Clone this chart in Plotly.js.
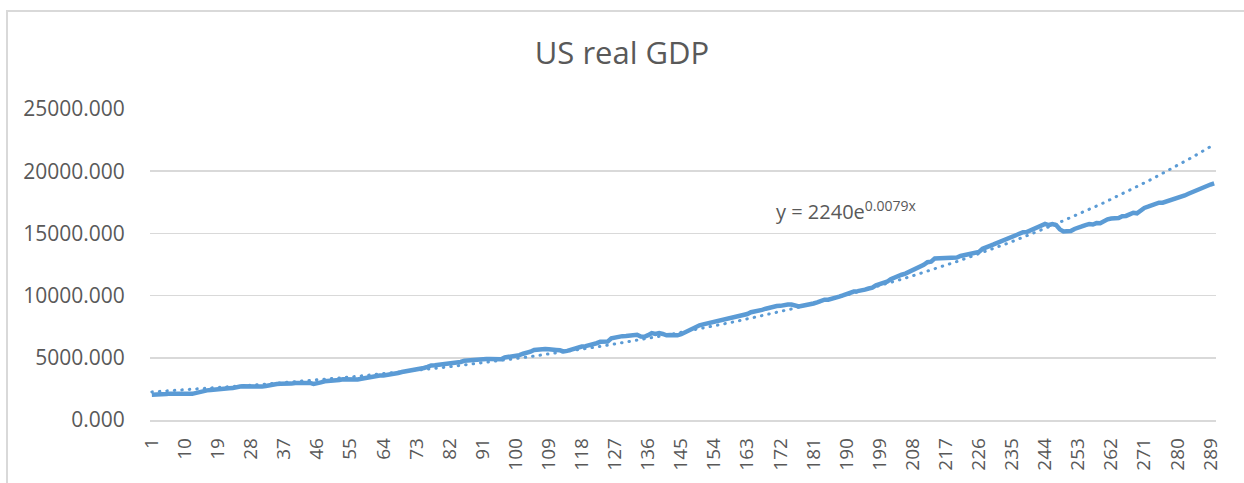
<!DOCTYPE html>
<html>
<head>
<meta charset="utf-8">
<script src="https://cdn.plot.ly/plotly-3.0.1.min.js"></script>
<style>
  html, body { margin: 0; padding: 0; background: #fff; }
  #chart { position: absolute; left: 0; top: 0; width: 1244px; height: 483px; }
  #frame { position: absolute; left: 6px; top: 10px; width: 1238px; height: 473px;
           border-left: 2px solid #d9d9d9; border-top: 2px solid #d9d9d9; pointer-events: none; box-sizing: border-box; }
  #chart .scatterlayer .trace:nth-child(2) path.js-line { stroke-linecap: round; }
</style>
</head>
<body>
<div id="chart"></div>
<div id="frame"></div>
<script>
// US real GDP, quarterly, 1947Q1 .. 2019Q2 (billions of chained dollars)
const gdp = [
  2033, 2028, 2023, 2055,   2086, 2120, 2133, 2135,   2106, 2098, 2120, 2102,
  2185, 2252, 2339, 2383,   2416, 2458, 2508, 2514,   2541, 2546, 2564, 2649,
  2698, 2719, 2703, 2662,   2650, 2653, 2683, 2735,   2813, 2859, 2898, 2915,
  2904, 2928, 2925, 2973,   2992, 2986, 3015, 2984,   2906, 2925, 3021, 3115,
  3124, 3195, 3204, 3212,   3278, 3260, 3276, 3234,   3255, 3311, 3372, 3446,
  3510, 3541, 3577, 3586,   3621, 3670, 3746, 3774,   3855, 3902, 3948, 3958,
  4054, 4104, 4185, 4273,   4385, 4400, 4437, 4472,   4510, 4511, 4545, 4578,
  4666, 4756, 4784, 4806,   4875, 4893, 4923, 4903,   4895, 4901, 4944, 4889,
  5027, 5056, 5101, 5114,   5210, 5328, 5386, 5488,   5630, 5679, 5661, 5708,
  5679, 5696, 5628, 5600,   5515, 5554, 5648, 5737,   5867, 5908, 5939, 5986,
  6055, 6171, 6282, 6280,   6303, 6563, 6642, 6729,   6741, 6750, 6803, 6826,
  6845, 6701, 6691, 6818,   6987, 6915, 6990, 6917,   6807, 6830, 6804, 6807,
  6893, 7055, 7193, 7337,   7484, 7612, 7687, 7754,   7825, 7893, 8013, 8074,
  8163, 8195, 8266, 8299,   8355, 8448, 8519, 8661,   8695, 8810, 8852, 8948,
  9040, 9096, 9156, 9175,   9268, 9291, 9276, 9194,   9123, 9187, 9238, 9265,
  9369, 9460, 9567, 9667,   9671, 9731, 9786, 9915,   10013, 10144, 10208, 10329,
  10359, 10385, 10479, 10570, 10637, 10824, 10918, 11044, 11115, 11320, 11465, 11563,
  11677, 11770, 11906, 12083, 12216, 12303, 12475, 12684, 12725, 12992, 13003, 13090,
  13031, 13111, 13039, 13061, 13184, 13248, 13294, 13313, 13390, 13508, 13761, 13915,
  14003, 14112, 14236, 14356, 14520, 14613, 14764, 14865, 15052, 15091, 15105, 15238,
  15275, 15409, 15566, 15762, 15672, 15752, 15667, 15328, 15156, 15134, 15189, 15356,
  15415, 15558, 15673, 15751, 15712, 15826, 15821, 16004, 16129, 16198, 16221, 16240,
  16383, 16404, 16532, 16663, 16617, 16842, 17048, 17144, 17278, 17405, 17464, 17469,
  17556, 17640, 17736, 17830, 17926, 18049, 18183, 18323, 18438, 18599, 18732, 18784,
  18928, 19022
];
const periods = gdp.map((_, i) => i + 1);

// Exponential trendline shown on the chart: y = 2240 e^(0.0079 x)
const trendA = 2240;
const trendB = 0.0079;
const trend = periods.map(x => trendA * Math.exp(trendB * x));

const xTickVals = [1,10,19,28,37,46,55,64,73,82,91,100,109,118,127,136,145,154,163,172,181,190,199,208,217,226,235,244,253,262,271,280,289];
const yTickVals = [0, 5000, 10000, 15000, 20000, 25000];
const yTickText = ['0.000','5000.000','10000.000','15000.000','20000.000','25000.000'];

const blue = '#5B9BD5';
const grey = '#595959';
const font = 'Open Sans, Noto Sans, sans-serif';

const traces = [
  { x: periods, y: gdp, type: 'scatter', mode: 'lines', name: 'US real GDP',
    line: { color: blue, width: 4.5 }, hoverinfo: 'x+y' },
  { x: periods, y: trend, type: 'scatter', mode: 'lines', name: 'Expon.',
    line: { color: blue, width: 3, dash: '0.5px,7px' }, hoverinfo: 'skip' }
];

const layout = {
  width: 1244, height: 483,
  margin: { l: 150, r: 28, t: 109, b: 63 },
  paper_bgcolor: '#ffffff', plot_bgcolor: '#ffffff',
  showlegend: false,
  font: { family: font, color: grey },
  title: { text: 'US real GDP', font: { family: font, size: 31, color: grey },
           x: 0.5, xanchor: 'center', y: 0.89, yref: 'container', yanchor: 'middle' },
  xaxis: {
    range: [0.5, 290.5], tickmode: 'array', tickvals: xTickVals, ticktext: xTickVals.map(String),
    tickangle: -90, tickfont: { family: font, size: 19, color: grey },
    showgrid: false, zeroline: false, showline: true, linecolor: '#d9d9d9', linewidth: 1.5,
    ticks: 'outside', ticklen: 9, tickcolor: 'rgba(0,0,0,0)'
  },
  yaxis: {
    range: [0, 25000], tickmode: 'array', tickvals: yTickVals, ticktext: yTickText,
    tickfont: { family: font, size: 21, color: grey },
    showgrid: true, gridcolor: '#d9d9d9', gridwidth: 1.5, zeroline: false, showline: false,
    ticks: 'outside', ticklen: 20, tickcolor: 'rgba(0,0,0,0)'
  },
  annotations: [{
    xref: 'paper', yref: 'paper', x: (846 - 150) / 1066, y: (420 - 210) / 311,
    xanchor: 'center', yanchor: 'middle', showarrow: false,
    text: 'y = 2240e<sup>0.0079x</sup>', font: { family: font, size: 20, color: grey }
  }]
};

Plotly.newPlot('chart', traces, layout, { displayModeBar: false, staticPlot: true });
</script>
</body>
</html>
